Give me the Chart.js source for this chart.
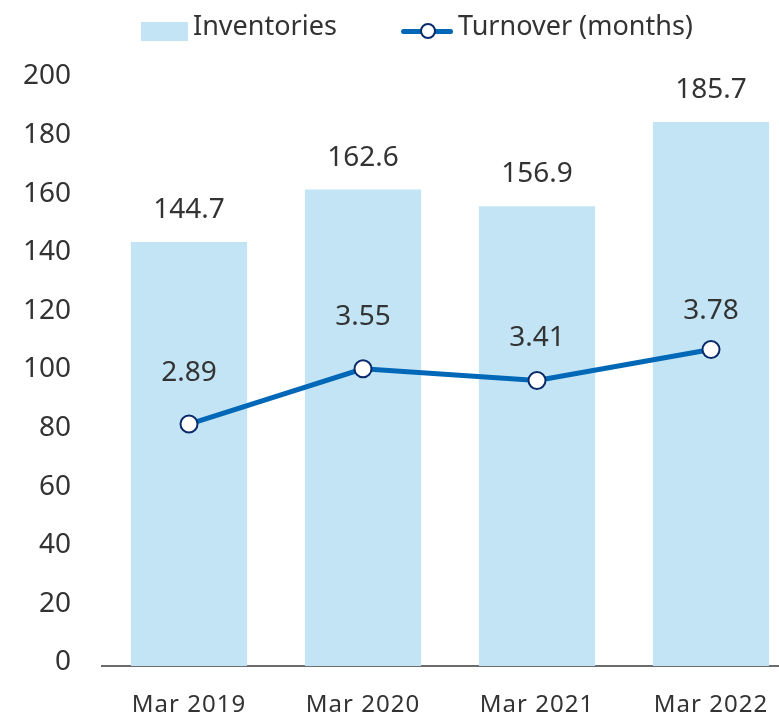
<!DOCTYPE html>
<html>
<head>
<meta charset="utf-8">
<script src="https://cdn.jsdelivr.net/npm/chart.js@4"></script>
<style>
html, body { margin: 0; padding: 0; overflow: hidden; background: #ffffff; }
#wrap { position: relative; width: 798px; height: 715px; }
#c { position: absolute; left: 0; top: 0; }
.lg-text { position: absolute; top: 11px; font-family: 'Noto Sans', sans-serif; font-size: 27px; line-height: 27px; color: #333333; white-space: nowrap; }
.lg-box { position: absolute; left: 141px; top: 22px; width: 47px; height: 19px; background: #c2e4f4; }
.lg-line { position: absolute; left: 401px; top: 28.5px; width: 52px; height: 5px; background: #0068b7; border-radius: 2.5px; }
.lg-dot { position: absolute; left: 420px; top: 23px; width: 12px; height: 12px; border: 2px solid #0b2a6b; border-radius: 50%; background: #ffffff; }
</style>
</head>
<body>
<div id="wrap">
  <canvas id="c" width="798" height="715"></canvas>
  <div class="lg-box"></div>
  <div class="lg-text" style="left:193px;">Inventories</div>
  <div class="lg-line"></div>
  <div class="lg-dot"></div>
  <div class="lg-text" style="left:458px;">Turnover (months)</div>
</div>
<script>
// ---- data ----
const categories = ['Mar 2019', 'Mar 2020', 'Mar 2021', 'Mar 2022'];
const inventories = [144.7, 162.6, 156.9, 185.7];
const turnover = [2.89, 3.55, 3.41, 3.78];
const yTickValues = [0, 20, 40, 60, 80, 100, 120, 140, 160, 180, 200];

// ---- style ----
const FONT = "'Noto Sans', sans-serif";
const TEXT = '#333333';
const BAR_COLOR = '#c2e4f4';
const LINE_COLOR = '#0068b7';
const POINT_BORDER = '#0b2a6b';
const pointLabelLift = [43, 44, 35, 31];
const barLabelLift = 24;

const valueLabels = {
  id: 'valueLabels',
  afterDatasetsDraw(chart) {
    const ctx = chart.ctx;
    ctx.save();
    ctx.font = '28px ' + FONT;
    ctx.fillStyle = TEXT;
    ctx.textAlign = 'center';
    ctx.textBaseline = 'alphabetic';
    chart.getDatasetMeta(0).data.forEach((el, i) => {
      ctx.fillText(inventories[i].toFixed(1), el.x, el.y - barLabelLift);
    });
    chart.getDatasetMeta(1).data.forEach((el, i) => {
      ctx.fillText(turnover[i].toFixed(2), el.x, el.y - pointLabelLift[i]);
    });
    ctx.restore();
  }
};

const xLetterSpacing = {
  id: 'xLetterSpacing',
  beforeDraw(chart) {
    const s = chart.scales.x;
    if (s && !s._spaced) {
      const orig = s.drawLabels.bind(s);
      s.drawLabels = function (area) {
        const c = this.ctx;
        const prev = c.letterSpacing;
        c.letterSpacing = '1px';
        orig(area);
        c.letterSpacing = prev || '0px';
      };
      s._spaced = true;
    }
  }
};

new Chart(document.getElementById('c'), {
  data: {
    labels: categories,
    datasets: [
      {
        type: 'bar',
        label: 'Inventories',
        data: inventories,
        backgroundColor: BAR_COLOR,
        borderWidth: 0,
        categoryPercentage: 1,
        barPercentage: 0.668,
        yAxisID: 'y',
        order: 2
      },
      {
        type: 'line',
        label: 'Turnover (months)',
        data: turnover,
        borderColor: LINE_COLOR,
        borderWidth: 5,
        tension: 0,
        pointRadius: 8.5,
        pointHoverRadius: 8.5,
        pointBackgroundColor: '#ffffff',
        pointBorderColor: POINT_BORDER,
        pointBorderWidth: 2,
        yAxisID: 'y1',
        order: 1
      }
    ]
  },
  options: {
    responsive: false,
    maintainAspectRatio: false,
    animation: false,
    devicePixelRatio: 1,
    layout: { autoPadding: false, padding: { top: 80, right: 0, bottom: 0, left: 0 } },
    plugins: {
      legend: { display: false },
      tooltip: { enabled: false }
    },
    scales: {
      x: {
        grid: { display: false, drawTicks: false },
        border: { display: true, color: '#6b6b6b', width: 2 },
        ticks: { font: { family: FONT, size: 24, lineHeight: 1 }, color: TEXT, padding: 27, maxRotation: 0 },
        afterFit(scale) { scale.height = 49; scale.paddingLeft = 0; scale.paddingRight = 0; }
      },
      y: {
        min: 0,
        max: 200,
        grid: { display: false, drawTicks: false },
        border: { display: false },
        ticks: { font: { family: FONT, size: 28 }, color: TEXT, padding: 31, labelOffset: -3.5 },
        afterBuildTicks(scale) { scale.ticks = yTickValues.map(v => ({ value: v })); },
        afterFit(scale) { scale.width = 102; scale.paddingTop = 0; scale.paddingBottom = 0; }
      },
      y1: {
        display: false,
        position: 'right',
        min: 0,
        max: 7
      }
    }
  },
  plugins: [valueLabels, xLetterSpacing]
});
</script>
</body>
</html>
